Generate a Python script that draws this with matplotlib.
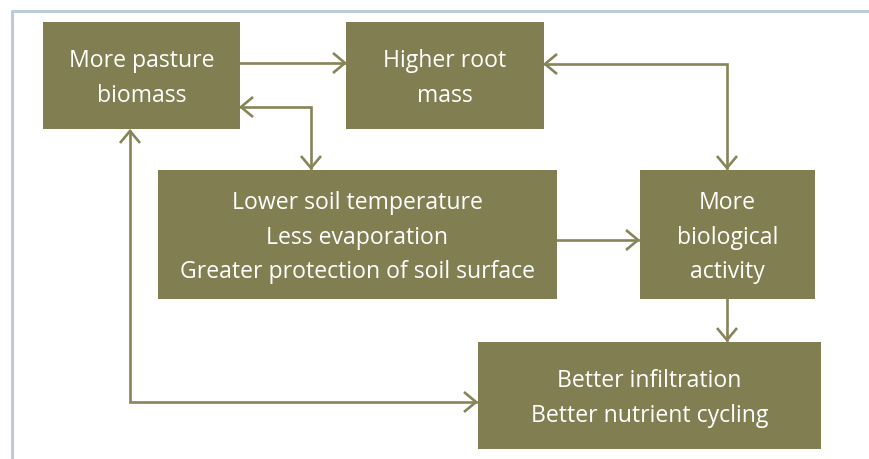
import matplotlib.pyplot as plt
from matplotlib.patches import Rectangle

## box labels
labels = [
    "More pasture\nbiomass",
    "Higher root\nmass",
    "Lower soil temperature\nLess evaporation\nGreater protection of soil surface",
    "More\nbiological\nactivity",
    "Better infiltration\nBetter nutrient cycling",
]

## box geometry in pixels (x0, y0, x1, y1), y grows downwards
boxes = [
    (43, 22, 240, 129),
    (346, 22, 544, 129),
    (158, 170, 557, 299),
    (640, 170, 815, 299),
    (478, 342, 821, 449),
]

box_color = "#817e51"
line_color = "#878558"
frame_color = "#bccbd9"

plt.rcParams['font.family'] = ['Open Sans', 'DejaVu Sans']

fig = plt.figure(figsize=(8.7, 4.59), dpi=100)
ax = fig.add_axes([0, 0, 1, 1])
ax.set_xlim(0, 870)
ax.set_ylim(459, 0)
ax.axis("off")

## outer frame (open to right and bottom)
ax.plot([12.5, 12.5, 870], [459, 10.5, 10.5], color=frame_color, lw=2.2, solid_capstyle="butt")

for (x0, y0, x1, y1), txt in zip(boxes, labels):
    ax.add_patch(Rectangle((x0, y0), x1 - x0, y1 - y0, color=box_color, lw=0))
    ax.text((x0 + x1) / 2, (y0 + y1) / 2 + 3, txt, ha="center", va="center",
            color="white", fontsize=16.6, linespacing=1.6)


def head(x, y, d, L=12, W=10):
    # open chevron arrow head with tip at (x, y)
    if d == "right":
        xs, ys = [x - L, x, x - L], [y - W, y, y + W]
    elif d == "left":
        xs, ys = [x + L, x, x + L], [y - W, y, y + W]
    elif d == "down":
        xs, ys = [x - W, x, x + W], [y - L, y, y - L]
    else:
        xs, ys = [x - W, x, x + W], [y + L, y, y + L]
    ax.plot(xs, ys, color=line_color, lw=1.9, solid_joinstyle="miter", solid_capstyle="butt")


def path(xs, ys):
    ax.plot(xs, ys, color=line_color, lw=1.9, solid_joinstyle="miter")


## biomass -> root mass
path([240, 345], [63, 63])
head(345, 63, "right")

## root mass <-> biological activity
path([545, 727, 727], [64, 64, 168])
head(545, 64, "left")
head(727, 168, "down")

## biomass <-> soil temperature box
path([241, 311, 311], [107, 107, 168])
head(241, 107, "left")
head(311, 168, "down")

## soil box -> biological activity
path([557, 638], [240, 240])
head(638, 240, "right")

## biological activity -> infiltration
path([727, 727], [299, 340])
head(727, 340, "down")

## biomass <-> infiltration
path([130, 130, 476], [131, 402, 402])
head(130, 131, "up")
head(476, 402, "right")

fig.savefig("out.png", dpi=100)
